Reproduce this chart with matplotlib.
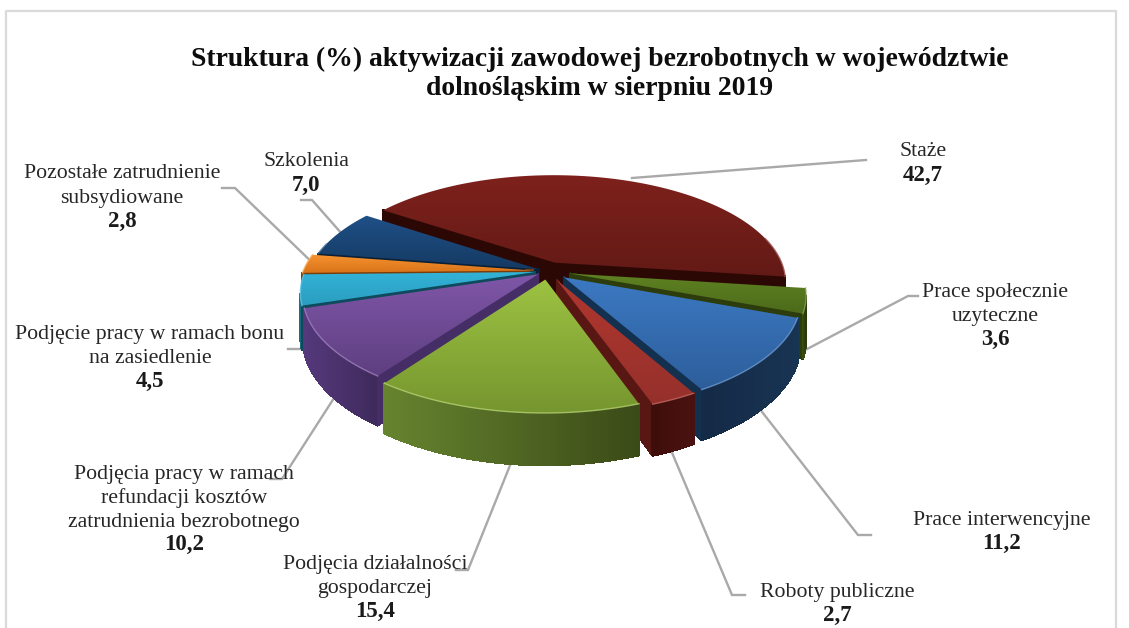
import numpy as np
import matplotlib
matplotlib.use("Agg")
import matplotlib.pyplot as plt
from matplotlib.patches import Polygon
from matplotlib.colors import to_rgb

W, H = 1129, 628
TITLE = ["Struktura (%) aktywizacji zawodowej bezrobotnych w województwie",
         "dolnośląskim w sierpniu 2019"]

# clockwise from the start of "Staże"
categories = ["Staże", "Prace społecznie\nuzyteczne", "Prace interwencyjne", "Roboty publiczne",
              "Podjęcia działalności\ngospodarczej",
              "Podjęcia pracy w ramach\nrefundacji kosztów\nzatrudnienia bezrobotnego",
              "Podjęcie pracy w ramach bonu\nna zasiedlenie",
              "Pozostałe zatrudnienie\nsubsydiowane", "Szkolenia"]
values = [42.7, 3.6, 11.2, 2.7, 15.4, 10.2, 4.5, 2.8, 7.0]

# style per slice
explode = [0.085, 0.10, 0.09, 0.09, 0.08, 0.052, 0.057, 0.065, 0.045]
top_hi = ["#7E211C", "#5F8222", "#3C79C2", "#B0372F", "#9CC242", "#7F56A8", "#33B2D8", "#F7932F", "#1F5087"]
top_lo = ["#631A16", "#4C6A1A", "#2D5E9B", "#96302B", "#76962F", "#5E3F80", "#2A9DBF", "#D9741A", "#153A63"]
wall_l = ["#3A0D09", "#3E5214", "#142A46", "#3E0E0B", "#66842F", "#55397C", "#1C6F88", "#A5530F", "#10304F"]
wall_r = ["#2E0906", "#2B3A0C", "#183453", "#4A1210", "#3B4A17", "#3E2A5B", "#185D72", "#8A440C", "#0D2740"]
radial = ["#2C0805", "#2C3C0D", "#14304F", "#591713", "#3B4A17", "#452E66", "#0F4A5C", "#7A3D0A", "#0B2036"]

# rim point, elbow, tail of the leader of each label
leaders = [[(632, 178), (866, 160)],
           [(790, 358), (908, 296), (918, 296)],
           [(745, 390), (858, 535), (871, 535)],
           [(665, 436), (732, 595), (745, 595)],
           [(515, 453), (468, 570), (456, 570)],
           [(352, 370), (282, 479), (270, 479)],
           [(315, 337), (300, 349), (288, 349)],
           [(320, 270), (235, 188), (222, 188)],
           [(350, 243), (312, 200), (301, 200)]]
# centre x, y of the first line of each label
label_pos = [(923, 152), (995, 292), (1002, 520), (837, 592), (375, 564),
             (184, 474), (150, 334), (122, 174), (306, 162)]

CX, CY, RA, RB, Q, DEPTH, START = 548, 271, 230, 106, 0.18, 42, 146.0

plt.rcParams["font.family"] = ["Liberation Serif", "DejaVu Serif"]
fig = plt.figure(figsize=(W / 100, H / 100), dpi=100)
ax = fig.add_axes([0, 0, 1, 1])


def project(u, v, drop=0.0):
    s = 1.0 / (1.0 + Q * v)
    return CX + RA * u * s, CY - RB * v * s + DEPTH * s * drop


def mix(a, b, t):
    a, b = np.array(to_rgb(a)), np.array(to_rgb(b))
    return tuple(a + (b - a) * t)


# frame
ax.plot([6, 6, 1116, 1116], [H, 11, 11, H], color="#DADADA", lw=1.6, zorder=1)

# leaders sit behind the pie
for pts in leaders:
    xs, ys = zip(*pts)
    ax.plot(xs, ys, color="#A9A9A9", lw=1.7, zorder=2, solid_joinstyle="miter")

total = sum(values)
spans, a = [], START
for val in values:
    b = a - val / total * 360
    spans.append((b, a))
    a = b

order = sorted(range(len(values)), key=lambda i: -np.sin(np.radians(sum(spans[i]) / 2)))
z = 3.0
for i in order:
    t1, t2 = spans[i]
    mid = np.radians((t1 + t2) / 2)
    ox, oy = explode[i] * np.cos(mid), explode[i] * np.sin(mid)
    th = np.radians(np.linspace(t1, t2, max(int(t2 - t1) * 2, 8)))
    us = np.r_[ox, ox + np.cos(th)]
    vs = np.r_[oy, oy + np.sin(th)]
    n = len(us)
    arc_x = project(us[1:], vs[1:])[0]
    xmin, xmax = arc_x.min(), arc_x.max()

    # walls facing the viewer
    for k in range(n):
        j = (k + 1) % n
        x0, y0 = project(us[k], vs[k])
        x1, y1 = project(us[j], vs[j])
        if x1 <= x0:
            continue
        x2, y2 = project(us[j], vs[j], 1)
        x3, y3 = project(us[k], vs[k], 1)
        if k == 0 or j == 0:
            col = radial[i]
        else:
            col = mix(wall_l[i], wall_r[i], (x0 - xmin) / max(xmax - xmin, 1))
        ax.add_patch(Polygon([(x0, y0), (x1, y1), (x2, y2), (x3, y3)], closed=True,
                             fc=col, ec=col, lw=0.9, zorder=z, antialiased=False))
        z += 0.001

    # top face with a vertical gradient
    px, py = project(us, vs)
    poly = Polygon(np.c_[px, py], closed=True, fc="none", ec="none", transform=ax.transData)
    ax.add_patch(poly)
    hi, lo = np.array(to_rgb(top_hi[i])), np.array(to_rgb(top_lo[i]))
    grad = hi[None, None, :] + np.linspace(0, 1, 64)[:, None, None] * (lo - hi)[None, None, :]
    im = ax.imshow(grad, extent=(px.min(), px.max(), py.max(), py.min()), aspect="auto",
                   interpolation="bilinear", zorder=z, origin="upper")
    im.set_clip_path(poly)
    z += 0.001
    # soft light rim on the front arc
    front = np.sin(th) < 0.25
    ax.plot(px[1:][front], py[1:][front], color=mix(top_hi[i], "#FFFFFF", 0.25), lw=1.0, zorder=z, alpha=0.8)
    z += 0.01

for k, line in enumerate(TITLE):
    ax.text(600, 59.5 + k * 29, line, ha="center", va="center", fontsize=19.9, fontweight="bold",
            color="#0D0D0D", zorder=20)

for name, val, (x, y) in zip(categories, values, label_pos):
    lines = name.split("\n")
    for k, line in enumerate(lines):
        ax.text(x, y + k * 24.2, line, ha="center", va="center", fontsize=15.7, color="#262626", zorder=20)
    ax.text(x, y + len(lines) * 23.6, f"{val:.1f}".replace(".", ","), ha="center", va="center",
            fontsize=16.5, fontweight="bold", color="#1A1A1A", zorder=20)

ax.set_xlim(0, W)
ax.set_ylim(H, 0)
ax.axis("off")
fig.savefig("out.png", dpi=100, facecolor="white")
